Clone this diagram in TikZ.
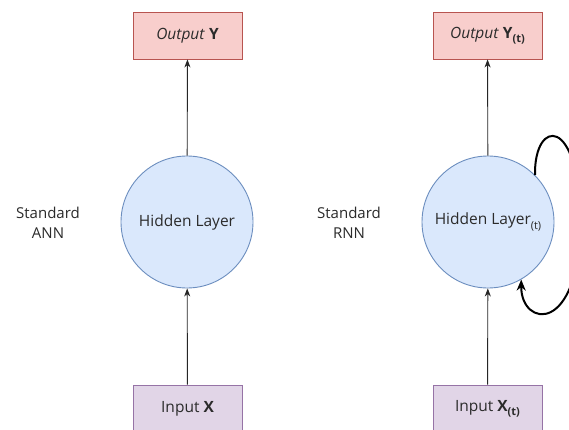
\documentclass[tikz,border=0pt]{standalone}
\usepackage{fontspec}
\setmainfont{Open Sans}
\usetikzlibrary{arrows.meta}
\definecolor{outfill}{HTML}{F8CECC}
\definecolor{outline}{HTML}{B85450}
\definecolor{infill}{HTML}{E1D5E7}
\definecolor{inline}{HTML}{9673A6}
\definecolor{hidfill}{HTML}{DAE8FC}
\definecolor{hidline}{HTML}{6C8EBF}
\definecolor{txt}{HTML}{2B2B2B}
\newcommand{\subt}[1]{\raisebox{-0.5ex}{\fontsize{11}{12}\selectfont #1}}
\tikzset{
  every node/.style={text=txt, font=\fontsize{15.5}{18}\selectfont},
  outbox/.style={draw=outline, fill=outfill, line width=0.9pt, minimum width=109pt, minimum height=47pt, inner sep=0pt},
  inbox/.style={draw=inline, fill=infill, line width=0.9pt, minimum width=109pt, minimum height=48pt, inner sep=0pt},
  hidden/.style={circle, draw=hidline, fill=hidfill, line width=0.9pt, minimum size=132pt, inner sep=0pt},
  label/.style={align=center, font=\fontsize{15}{20}\selectfont},
  flow/.style={draw=black!85, line width=0.9pt, -{Stealth[length=8pt, width=6pt, inset=2.5pt]}},
  loop/.style={draw=black, line width=2pt, -{Stealth[length=11pt, width=9pt, inset=3.5pt]}}
}
\begin{document}
\begin{tikzpicture}[x=1pt, y=-1pt]
  \useasboundingbox (0,0) rectangle (569,430);
  \clip (0,0) rectangle (569,430);
  \fill[white] (0,0) rectangle (569,430);

  % feed-forward network
  \node[outbox] (ya) at (187.5,35.5) {\itshape Output \upshape\textbf{Y}};
  \node[hidden] (ha) at (187,222) {Hidden Layer};
  \node[inbox] (xa) at (187.5,409) {Input \textbf{X}};
  \node[label] (la) at (48,223) {Standard\\ANN};
  \draw[flow] (xa) -- (ha);
  \draw[flow] (ha) -- (ya);

  % recurrent network
  \node[outbox] (yb) at (487.5,35.5) {\itshape Output \upshape\textbf{Y}\subt{\textbf{(t)}}};
  \node[hidden] (hb) at (488,222) {Hidden Layer\subt{(t)}};
  \node[inbox] (xb) at (487.5,409) {Input \textbf{X}\subt{\textbf{(t)}}};
  \node[label] (lb) at (349,223) {Standard\\RNN};
  \draw[flow] (xb) -- (hb);
  \draw[flow] (hb) -- (yb);

  % recurrence: hidden state fed back into itself
  \coordinate (rb) at (580,222);
  \draw[loop] (hb.45) .. controls (534,118) and (580,115) .. (rb)
    .. controls (580,335) and (521,328) .. (hb.-60);
\end{tikzpicture}
\end{document}
